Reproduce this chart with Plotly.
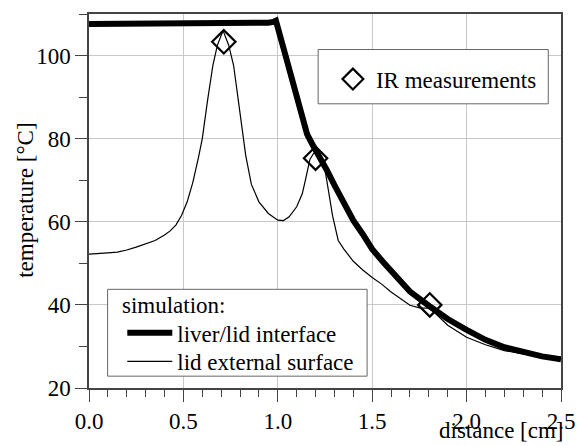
import plotly.graph_objects as go

# liver/lid interface (thick)
thick_x = [0.0, 0.3, 0.6, 0.9, 0.95, 0.975, 0.99, 1.05, 1.1, 1.155, 1.18, 1.215, 1.26, 1.3, 1.35, 1.4, 1.45,
           1.5, 1.56, 1.6, 1.7, 1.8, 1.9, 2.0, 2.1, 2.2, 2.3, 2.4, 2.5]
thick_y = [107.6, 107.6, 107.6, 107.7, 107.9, 108.1, 108.4, 98.5, 90.2, 81.1, 78.9, 76.3, 72.4, 68.8, 64.5, 60.3, 57.0,
           53.4, 50.2, 48.3, 43.2, 39.8, 36.6, 34.0, 31.6, 29.8, 28.6, 27.6, 26.9]

# lid external surface (thin)
thin_x = [0.0, 0.05, 0.1, 0.15, 0.2, 0.25, 0.3, 0.35, 0.4, 0.43, 0.46, 0.49, 0.52, 0.55, 0.58, 0.6, 0.627, 0.656,
          0.68, 0.71, 0.74, 0.766, 0.79, 0.81, 0.83, 0.86, 0.9, 0.95, 1.0, 1.03, 1.06, 1.1, 1.13, 1.15, 1.17, 1.19,
          1.21, 1.23, 1.25, 1.27, 1.29, 1.32, 1.35, 1.4, 1.45, 1.5, 1.55, 1.6, 1.65, 1.7, 1.75, 1.8, 1.82, 1.85,
          1.9, 2.0, 2.1, 2.2, 2.3, 2.4, 2.5]
thin_y = [52.2, 52.3, 52.5, 52.7, 53.2, 53.9, 54.7, 55.5, 56.8, 57.8, 59.2, 61.5, 64.8, 69.5, 75.5, 80.0, 88.9, 97.6,
          102.5, 106.0, 102.5, 97.6, 89.5, 82.5, 76.0, 69.0, 64.8, 62.0, 60.4, 60.3, 61.2, 63.6, 66.8, 70.8, 75.0,
          76.5, 76.6, 75.0, 72.5, 67.0, 61.5, 55.5, 53.4, 50.5, 48.4, 46.6, 45.0, 43.1, 41.4, 39.9, 39.3, 39.2,
          38.6, 37.2, 35.1, 32.2, 30.4, 29.0, 28.2, 27.7, 27.4]

# IR measurements
ir_x = [0.714, 1.2, 1.805]
ir_y = [103.3, 75.3, 40.0]

x_ticks = [0.0, 0.5, 1.0, 1.5, 2.0, 2.5]
x_ticklabels = ["0.0", "0.5", "1.0", "1.5", "2.0", "2.5"]
y_ticks = [20, 40, 60, 80, 100]

FONT = "Liberation Serif, Times New Roman, serif"
FS = 23

# plot area in pixels: left 89, right 571, top 12, bottom 391
L, R, T, B = 89, 571, 12, 391
def px(x):
    return (x - L) / (R - L)
def py(y):
    return (B - y) / (B - T)

fig = go.Figure()
fig.add_trace(go.Scatter(x=thick_x, y=thick_y, mode="lines", name="liver/lid interface",
                         line=dict(color="black", width=6), legend="legend2"))
fig.add_trace(go.Scatter(x=thin_x, y=thin_y, mode="lines", name="lid external surface",
                         line=dict(color="black", width=1.2), legend="legend3"))
fig.add_trace(go.Scatter(x=ir_x, y=ir_y, mode="markers", name="IR measurements",
                         marker=dict(symbol="diamond-open", size=18, color="black",
                                     line=dict(color="black", width=2.2)),
                         legend="legend"))

box_line = dict(color="#666", width=1)
leg_common = dict(borderwidth=0, bgcolor="rgba(0,0,0,0)", font=dict(family=FONT, size=FS))
fig.update_layout(
    width=587, height=446,
    margin=dict(l=L, r=587 - R, t=T, b=446 - B),
    paper_bgcolor="white", plot_bgcolor="white",
    showlegend=True,
    font=dict(family=FONT, size=FS, color="black"),
    legend=dict(x=px(335), xanchor="left", y=py(78), yanchor="middle", itemwidth=36, **leg_common),
    legend2=dict(x=px(123), xanchor="left", y=py(335), yanchor="middle", itemwidth=45, **leg_common),
    legend3=dict(x=px(123), xanchor="left", y=py(364), yanchor="middle", itemwidth=45, **leg_common),
    xaxis=dict(range=[0, 2.5], tickvals=x_ticks, ticktext=x_ticklabels,
               showgrid=True, gridcolor="#c8c8c8", gridwidth=1,
               showline=True, linecolor="#444", linewidth=1.5, mirror=True,
               ticks="outside", ticklen=12, tickcolor="#444", tickwidth=1.2,
               minor=dict(dtick=0.1, tick0=0, ticks="outside", ticklen=7, tickcolor="#444", showgrid=False),
               zeroline=False, tickfont=dict(family=FONT, size=FS)),
    yaxis=dict(range=[20, 110], tickvals=y_ticks,
               showgrid=True, gridcolor="#c8c8c8", gridwidth=1,
               showline=True, linecolor="#444", linewidth=1.5, mirror=True,
               ticks="outside", ticklen=12, tickcolor="#444", tickwidth=1.2,
               minor=dict(dtick=10, tick0=0, ticks="outside", ticklen=8, tickcolor="#444", showgrid=False),
               zeroline=False, tickfont=dict(family=FONT, size=FS)),
    shapes=[
        dict(type="rect", xref="paper", yref="paper", x0=px(323), x1=px(558), y0=py(103), y1=py(48),
             line=box_line, fillcolor="white", layer="above"),
        dict(type="rect", xref="paper", yref="paper", x0=px(108), x1=px(373), y0=py(379), y1=py(291),
             line=box_line, fillcolor="white", layer="above"),
    ],
    annotations=[
        dict(text="simulation:", xref="paper", yref="paper", x=px(121), y=py(307),
             xanchor="left", yanchor="middle", showarrow=False, font=dict(family=FONT, size=FS)),
        dict(text="distance [cm]", xref="paper", yref="paper", x=px(576), y=py(434),
             xanchor="right", yanchor="middle", showarrow=False, font=dict(family=FONT, size=FS)),
        dict(text="temperature [°C]", xref="paper", yref="paper", x=px(24), y=py(201),
             xanchor="center", yanchor="middle", textangle=-90, showarrow=False,
             font=dict(family=FONT, size=FS)),
    ],
)

fig.write_html("out.html")
